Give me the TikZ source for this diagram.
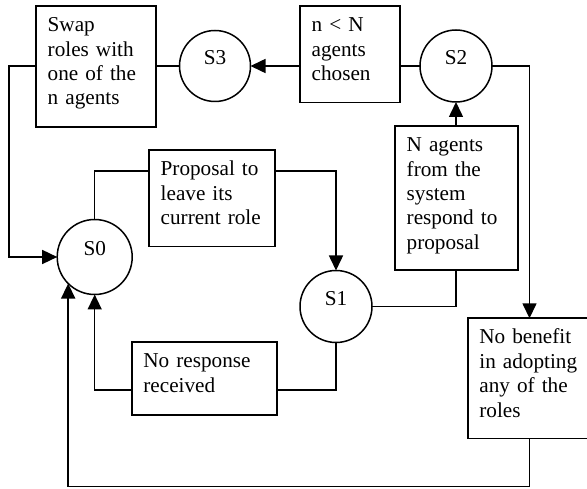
\documentclass[tikz,border=0pt]{standalone}
\usepackage{fontspec}
\setmainfont{Liberation Serif}
\usetikzlibrary{arrows.meta,calc}
\begin{document}
\begin{tikzpicture}[x=1pt,y=-1pt,
  every node/.style={font=\fontsize{21.2pt}{24.4pt}\selectfont},
  conn/.style={line width=1.5pt},
  arr/.style={conn,-{Triangle[length=15pt,width=14pt]}},
  box/.style={draw,line width=1.6pt,anchor=north west,align=left,
    inner xsep=11.7pt,inner ysep=0pt,outer sep=0pt,text height=25.7pt},
  state/.style={draw,circle,line width=1.5pt,inner sep=0pt,outer sep=0pt,
    text height=14.5pt,text depth=17.1pt}
]
\useasboundingbox (0,0) rectangle (587,489);
\clip (0,0) rectangle (587,489);

% states
\node[state,minimum size=75pt] (s0) at (94.7,257) {S0};
\node[state,minimum size=72pt] (s1) at (336,306.5) {S1};
\node[state,minimum size=72pt] (s2) at (456,66) {S2};
\node[state,minimum size=71pt] (s3) at (215,66) {S3};

% boxes
\node[box,text width=96.6pt,text depth=95.3pt] (swap) at (36,6)
  {Swap\\roles with\\one of the\\n agents};
\node[box,text width=76.6pt,text depth=71pt] (nn) at (300,6)
  {n < N\\agents\\chosen};
\node[box,text width=102.6pt,text depth=71pt] (prop) at (149,150)
  {Proposal to\\leave its\\current role};
\node[box,text width=99.6pt,text depth=118.3pt] (nag) at (395,126)
  {N agents\\from the\\system\\respond to\\proposal};
\node[box,text width=121.6pt,text depth=47pt] (nr) at (131.7,342.3)
  {No response\\received};
\node[box,text width=100.2pt,text depth=94.3pt] (nb) at (467.7,318.3)
  {No benefit\\in adopting\\any of the\\roles};

% connectors
\draw[conn] (swap.east |- s3) -- (s3.west);
\draw[arr] (nn.west |- s3) -- (s3.east);
\draw[conn] (s2.west) -- (nn.east |- s2);
\draw[arr] (swap.west |- s3) -- ++(-27,0) |- (s0.west);
\draw[arr] (s2.east) -| (nb.north);
\draw[arr] (nag.north -| s2) -- (s2.south);
\draw[conn] (s1.east) -| (nag.south -| s2);
\draw[conn] (s0.north) |- ($(prop.north west)+(0,21)$);
\draw[arr] ($(prop.north east)+(0,21)$) -| (s1.north);
\draw[conn] (s1.south) |- ($(nr.north east)+(0,47.7)$);
\draw[arr] ($(nr.north west)+(0,47.7)$) -| (s0.south);
\draw[arr] (nb.south) -- ++(0,48) -| (s0.south west);
\end{tikzpicture}
\end{document}
